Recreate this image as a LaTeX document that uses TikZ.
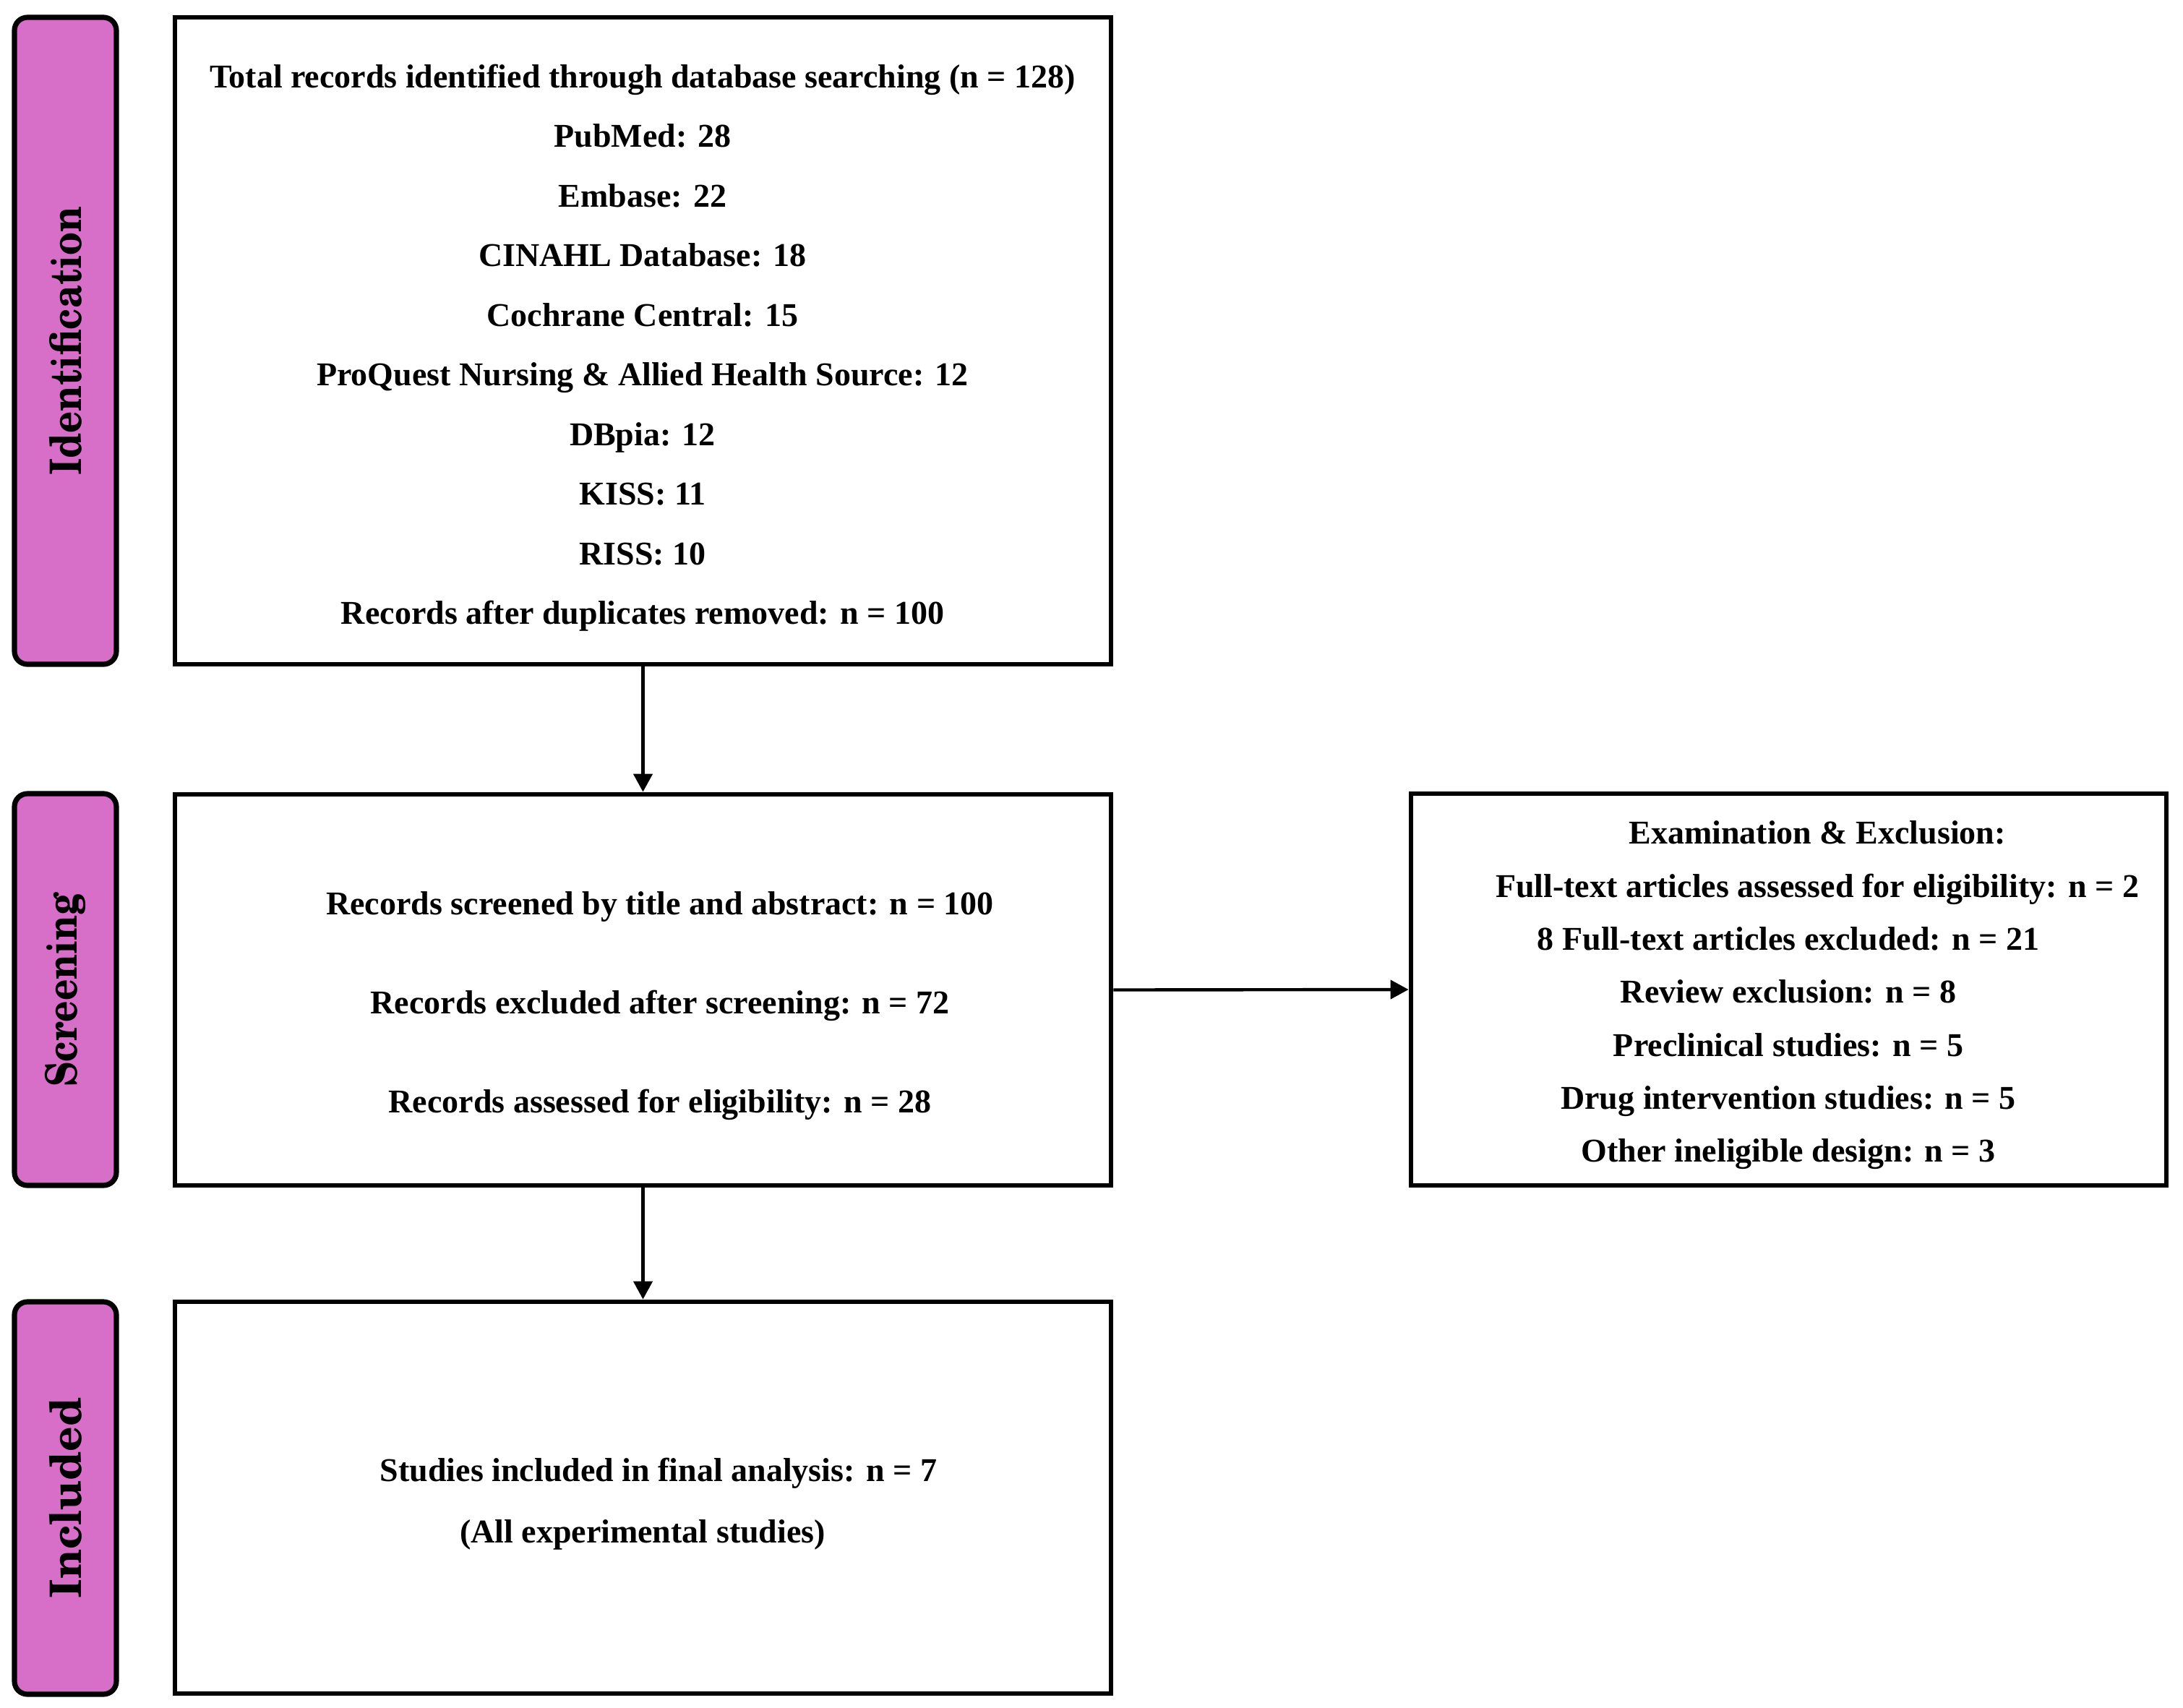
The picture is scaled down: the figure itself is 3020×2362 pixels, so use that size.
\documentclass[tikz,border=0pt]{standalone}
\usepackage{fontspec}
\setmainfont{Liberation Serif}
\newfontfamily\scholafont{texgyreschola-bold.otf}
\usetikzlibrary{arrows.meta}
\definecolor{pinkbar}{RGB}{215,110,200}
\begin{document}
\begin{tikzpicture}[x=0.5pt,y=-0.5pt,
  box/.style={draw=black, line width=3.4pt, rectangle, inner sep=0pt, fill=white},
  phase/.style={draw=black, line width=3.6pt, fill=pinkbar, rounded corners=9pt, minimum width=70.5pt, inner sep=0pt},
  phasetext/.style={rotate=90, inner sep=0pt, font=\scholafont\fontsize{30}{36}\selectfont},
  txt/.style={align=center, inner sep=0pt},
  arr/.style={-{Triangle[length=12.5pt,width=13pt]}, line width=2.2pt}
]
\useasboundingbox[fill=white] (0,0) rectangle (3020,2362);

% phase bars
\node[phase, minimum height=447.5pt] (idbar) at (90.5,471.5) {};
\node[phasetext, xscale=0.873] (idlab) at (idbar.center) {Identification};
\node[phase, minimum height=271pt] (scbar) at (90.5,1369) {};
\node[phasetext, xscale=0.854] (sclab) at (scbar.center) {Screening};
\node[phase, minimum height=271.5pt] (inbar) at (90.5,2072.5) {};
\node[phasetext] (inlab) at (inbar.center) {Included};

% boxes
\node[box, minimum width=647.5pt, minimum height=447.5pt] (ident) at (889.5,471.5) {};
\node[box, minimum width=647.5pt, minimum height=270.5pt] (screen) at (889.5,1369.5) {};
\node[box, minimum width=522.5pt, minimum height=271pt] (excl) at (2474.5,1369) {};
\node[box, minimum width=647.5pt, minimum height=271pt] (incl) at (889.5,2072) {};

% texts
\node[txt, font=\bfseries\fontsize{23}{41.25}\selectfont] (identtxt) at (889,481) {Total records identified through database searching (n = 128)\\
PubMed: 28\\
Embase: 22\\
CINAHL Database: 18\\
Cochrane Central: 15\\
ProQuest Nursing \& Allied Health Source: 12\\
DBpia: 12\\
KISS: 11\\
RISS: 10\\
Records after duplicates removed: n = 100};

\node[txt, font=\bfseries\fontsize{23}{68.5}\selectfont] (screentxt) at (913,1392) {Records screened by title and abstract: n = 100\\
Records excluded after screening: n = 72\\
Records assessed for eligibility: n = 28};

\node[txt, font=\bfseries\fontsize{23}{36.67}\selectfont] (excltxt) at (2474,1377) {\hspace*{40pt}Examination \& Exclusion:\\
\hspace*{40pt}Full-text articles assessed for eligibility: n = 2\\
8 Full-text articles excluded: n = 21\\
Review exclusion: n = 8\\
Preclinical studies: n = 5\\
Drug intervention studies: n = 5\\
Other ineligible design: n = 3};

\node[txt, font=\bfseries\fontsize{23}{42.5}\selectfont] (incltxt) at (889,2081) {\hspace*{22pt}Studies included in final analysis: n = 7\\
(All experimental studies)};

% connectors
\draw[arr] (ident.south) -- (screen.north);
\draw[arr] (screen.east) -- (excl.west);
\draw[arr] (screen.south) -- (incl.north);
\end{tikzpicture}
\end{document}
